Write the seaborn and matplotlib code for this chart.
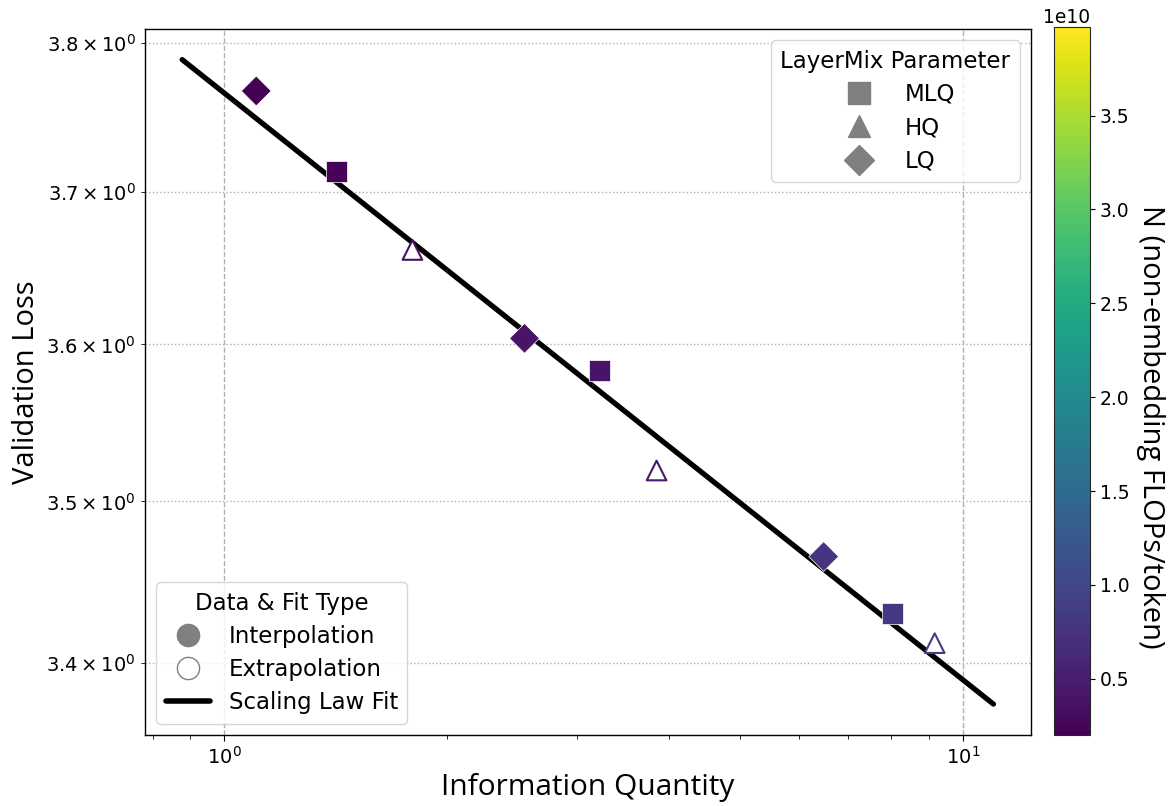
import numpy as np
import pandas as pd
import matplotlib
matplotlib.use("Agg")
import matplotlib.pyplot as plt
from matplotlib.colors import Normalize
from matplotlib.lines import Line2D
import seaborn as sns

# Measured runs
info_quantity = [1.105, 1.418, 1.798, 2.550, 3.222, 3.849, 6.48, 8.04, 9.16]
val_loss = [3.7674, 3.7131, 3.6615, 3.6039, 3.5832, 3.5195, 3.4656, 3.4306, 3.4122]
flops = [0.20e10, 0.24e10, 0.36e10, 0.40e10, 0.40e10, 0.45e10, 0.77e10, 0.80e10, 0.86e10]
layermix = ["LQ", "MLQ", "HQ", "LQ", "MLQ", "HQ", "LQ", "MLQ", "HQ"]
fit_type = ["Interpolation", "Interpolation", "Extrapolation", "Interpolation",
            "Interpolation", "Extrapolation", "Interpolation", "Interpolation",
            "Extrapolation"]

# Power-law fit L = a * x^b
fit_a = 3.766
fit_b = -0.0457
fit_x_range = [0.877, 11.0]

flops_min, flops_max = 0.2e10, 3.97e10
marker_map = {"MLQ": "s", "HQ": "^", "LQ": "D"}

df = pd.DataFrame({"x": info_quantity, "loss": val_loss, "flops": flops,
                   "layermix": layermix, "fit": fit_type})

sns.set_style("white")
plt.rcParams["font.family"] = ["DejaVu Sans"]
plt.rcParams.update({"text.color": "black", "axes.labelcolor": "black",
                     "xtick.color": "black", "ytick.color": "black"})

fig = plt.figure(figsize=(11.69, 8.06), dpi=100)
ax = fig.add_axes([0.124, 0.088, 0.758, 0.876])
cax = fig.add_axes([0.9016, 0.088, 0.0308, 0.878])

norm = Normalize(vmin=flops_min, vmax=flops_max)
cmap = plt.get_cmap("viridis")

interp = df[df["fit"] == "Interpolation"]
extrap = df[df["fit"] == "Extrapolation"]

sns.scatterplot(data=interp, x="x", y="loss", hue="flops", hue_norm=norm,
                palette="viridis", style="layermix", markers=marker_map,
                s=230, linewidth=0.5, legend=False, ax=ax, zorder=3)
n_before = len(ax.collections)
sns.scatterplot(data=extrap, x="x", y="loss", hue="flops", hue_norm=norm,
                palette="viridis", style="layermix", markers=marker_map,
                s=200, linewidth=1.5, legend=False, ax=ax, zorder=3)
for coll in ax.collections[n_before:]:
    fc = coll.get_facecolors()
    coll.set_edgecolors(fc)
    coll.set_facecolors("white")

xf = np.logspace(np.log10(fit_x_range[0]), np.log10(fit_x_range[1]), 100)
sns.lineplot(x=xf, y=fit_a * xf ** fit_b, color="black", lw=3.8, ax=ax,
             zorder=2)

ax.set_xscale("log")
ax.set_yscale("log")
ax.set_xlim(0.781, 12.37)
ax.set_ylim(3.3564, 3.8095)

for s in ax.spines.values():
    s.set_visible(True)
    s.set_color("black")
    s.set_linewidth(1.0)
ax.tick_params(axis="both", which="both", labelsize=14, direction="out",
               bottom=True, left=True, color="black")
ax.tick_params(axis="both", which="major", length=4)
ax.tick_params(axis="both", which="minor", length=3)

ax.grid(False)
ax.xaxis.grid(True, which="major", ls="--", color="#b0b0b0", lw=1.0)
ax.yaxis.grid(True, which="minor", ls=":", color="#b0b0b0", lw=1.0)

label_font = ["Open Sans", "DejaVu Sans"]
ax.set_xlabel("Information Quantity", fontsize=21.5, family=label_font)
ax.set_ylabel("Validation Loss", fontsize=21, family=label_font)

sm = plt.cm.ScalarMappable(norm=norm, cmap=cmap)
cb = fig.colorbar(sm, cax=cax)
cb.ax.tick_params(labelsize=13.5, color="black")
cb.ax.yaxis.get_offset_text().set_fontsize(13.5)
cb.set_label("N (non-embedding FLOPs/token)", fontsize=21, family=label_font,
             rotation=270, labelpad=26)
cb.ax.yaxis.label.set_y(0.435)

gray = "#808080"
shape_handles = [
    Line2D([], [], marker="s", ls="", color=gray, markersize=16, label="MLQ"),
    Line2D([], [], marker="^", ls="", color=gray, markersize=16, label="HQ"),
    Line2D([], [], marker="D", ls="", color=gray, markersize=15, label="LQ"),
]
leg1 = ax.legend(handles=shape_handles, title="LayerMix Parameter",
                 loc="upper right", fontsize=16.5, title_fontsize=16.5,
                 frameon=True, handletextpad=1.0, labelspacing=0.45)
ax.add_artist(leg1)

type_handles = [
    Line2D([], [], marker="o", ls="", color=gray, markersize=16,
           label="Interpolation"),
    Line2D([], [], marker="o", ls="", markerfacecolor="white",
           markeredgecolor=gray, markersize=16, label="Extrapolation"),
    Line2D([], [], color="black", lw=4, label="Scaling Law Fit"),
]
ax.legend(handles=type_handles, title="Data & Fit Type", loc="lower left",
          fontsize=16.5, title_fontsize=16.5, frameon=True,
          handlelength=1.95, handletextpad=0.8, labelspacing=0.45)

fig.savefig("out.png", dpi=100)
